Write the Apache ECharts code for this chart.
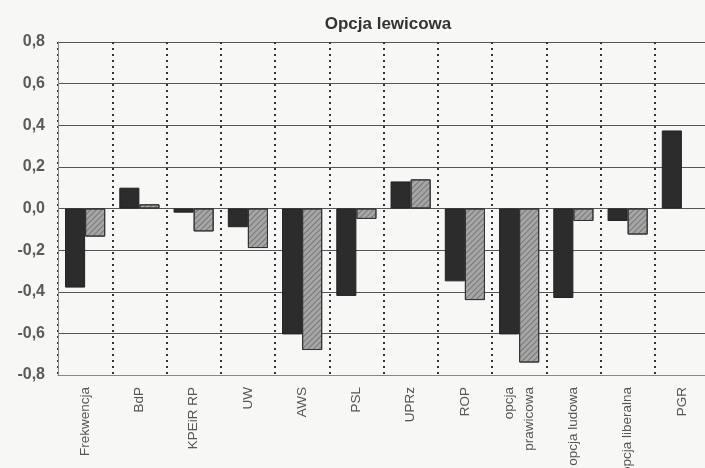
<!DOCTYPE html>
<html>
<head>
<meta charset="utf-8">
<script src="https://cdn.jsdelivr.net/npm/echarts@6/dist/echarts.min.js"></script>
<style>
  html, body { margin: 0; padding: 0; background: #f7f7f5; }
  #chart { width: 705px; height: 468px; }
</style>
</head>
<body>
<div id="chart"></div>
<script>
const categories = [
  "Frekwencja", "BdP", "KPEiR RP", "UW", "AWS", "PSL",
  "UPRz", "ROP", "opcja\nprawicowa", "opcja ludowa", "opcja liberalna", "PGR"
];
const darkValues = [-0.38, 0.10, -0.02, -0.09, -0.605, -0.42, 0.13, -0.35, -0.605, -0.43, -0.06, 0.375];
const hatchValues = [-0.135, 0.02, -0.11, -0.19, -0.68, -0.05, 0.14, -0.44, -0.74, -0.06, -0.125, null];

const chart = echarts.init(document.getElementById("chart"));

chart.setOption({
  backgroundColor: "#f7f7f5",
  animation: false,
  title: {
    text: "Opcja lewicowa",
    left: 383,
    top: 11,
    textAlign: "center",
    textStyle: { fontFamily: "Liberation Sans", fontSize: 17, fontWeight: "bold", color: "#333" },
  },
  grid: {
    left: 58,
    top: 42,
    width: 651,
    height: 333,
    outerBoundsMode: "none",
    containLabel: false,
  },
  xAxis: {
    type: "category",
    data: categories,
    axisLine: { onZero: false, lineStyle: { color: "#888", width: 1 } },
    axisTick: { show: false },
    splitLine: {
      show: true,
      lineStyle: { color: "#333", type: [2, 4], width: 2 },
    },
    axisLabel: {
      rotate: 90,
      interval: 0,
      margin: 12,
      fontFamily: "Liberation Sans",
      fontSize: 13.5,
      color: "#555",
      lineHeight: 20,
    },
  },
  yAxis: {
    type: "value",
    min: -0.8,
    max: 0.8,
    interval: 0.2,
    axisLine: { show: true, lineStyle: { color: "#888", width: 1 } },
    axisTick: { show: false },
    splitLine: { lineStyle: { color: "#555", width: 1 } },
    axisLabel: {
      margin: 13,
      fontFamily: "Liberation Sans",
      fontSize: 16,
      fontWeight: "bold",
      color: "#5a5a5a",
      formatter(val) {
        return val.toFixed(1).replace(".", ",");
      },
    },
  },
  series: [
    {
      type: "bar",
      data: darkValues,
      barGap: "0%",
      barCategoryGap: "26%",
      itemStyle: { color: "#2c2c2c", borderColor: "#222", borderWidth: 1 },
    },
    {
      type: "bar",
      data: hatchValues,
      itemStyle: {
        color: "#a6a6a6",
        borderColor: "#333",
        borderWidth: 1,
        decal: {
          symbol: "rect",
          dashArrayX: [1, 0],
          dashArrayY: [1, 3],
          rotation: -Math.PI / 4,
          color: "rgba(70,70,70,0.5)",
        },
      },
    },
  ],
});
</script>
</body>
</html>
